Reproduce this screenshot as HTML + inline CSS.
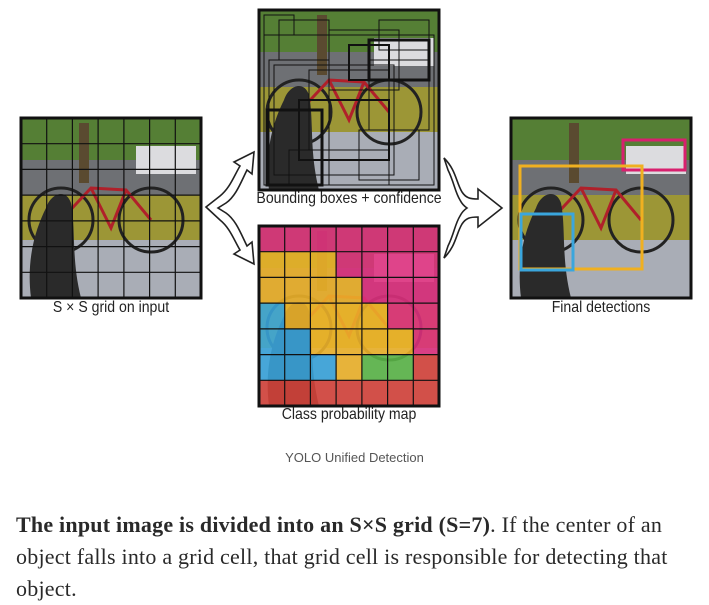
<!DOCTYPE html>
<html><head><meta charset="utf-8"><style>
body{margin:0;width:709px;height:600px;background:#fff;overflow:hidden;position:relative;font-family:"Liberation Sans",sans-serif}
.lbl{position:absolute;font-size:16px;color:#222;text-align:center;transform:scaleX(0.88)}
#cap{position:absolute;top:450px;left:0;width:709px;text-align:center;font-size:13px;color:#555}
#para{position:absolute;top:509px;left:16px;width:690px;white-space:nowrap;font-family:"Liberation Serif",serif;font-size:22px;line-height:32px;color:#292929;letter-spacing:0.22px}
</style></head><body>
<svg width="709" height="440" style="position:absolute;left:0;top:0">
<defs>
<g id="scene">
<rect width="180" height="180" fill="#a9adb6"/>
<rect width="180" height="42" fill="#557f35"/>
<rect y="42" width="180" height="35" fill="#6e7074"/>
<rect x="115" y="28" width="60" height="28" fill="#dcdcdf"/>
<rect y="77" width="180" height="45" fill="#9c9636"/>
<rect x="58" y="5" width="10" height="60" fill="#5a4a30"/>
<circle cx="40" cy="102" r="32" fill="none" stroke="#222" stroke-width="3"/>
<circle cx="130" cy="102" r="32" fill="none" stroke="#222" stroke-width="3"/>
<path d="M40 102 L70 70 L105 72 L130 102 M70 70 L90 110 L105 72" fill="none" stroke="#b0202a" stroke-width="3"/>
<path d="M10 180 C5 140 15 110 25 90 C30 75 45 70 50 85 C55 110 50 140 60 180 Z" fill="#2a2a2a"/>
</g>
<g id="grid7" fill="none" stroke="#111" stroke-width="1.2">
<path d="M25.7 0V180M51.4 0V180M77.1 0V180M102.9 0V180M128.6 0V180M154.3 0V180M0 25.7H180M0 51.4H180M0 77.1H180M0 102.9H180M0 128.6H180M0 154.3H180"/>
</g>
</defs>
<g transform="translate(21,118)">
<use href="#scene"/><use href="#grid7"/><rect width="180" height="180" fill="none" stroke="#111" stroke-width="3"/>
</g>
<g transform="translate(259,10)">
<use href="#scene"/>
<g fill="none" stroke="#111" stroke-width="1">
<rect x="5" y="25" width="170" height="150"/><rect x="10" y="50" width="60" height="125"/><rect x="8" y="100" width="55" height="75" stroke-width="3"/>
<rect x="15" y="55" width="120" height="110"/><rect x="110" y="30" width="60" height="40" stroke-width="3"/><rect x="90" y="35" width="40" height="35" stroke-width="2"/>
<rect x="110" y="50" width="60" height="70"/><rect x="50" y="60" width="80" height="80"/><rect x="20" y="10" width="50" height="40"/>
<rect x="70" y="20" width="70" height="60"/><rect x="30" y="140" width="100" height="35"/><rect x="100" y="120" width="60" height="50"/>
<rect x="5" y="5" width="30" height="20"/><rect x="120" y="10" width="50" height="30"/><rect x="40" y="90" width="90" height="60" stroke-width="2"/>
</g>
<rect width="180" height="180" fill="none" stroke="#111" stroke-width="3"/>
</g>
<g transform="translate(259,226)">
<use href="#scene"/>
<g id="cells" opacity="0.88"></g>
<use href="#grid7" style="stroke-width:2"/>
<rect width="180" height="180" fill="none" stroke="#111" stroke-width="3"/>
</g>
<g transform="translate(511,118)">
<use href="#scene"/>
<rect x="112" y="22" width="62" height="30" fill="none" stroke="#d8206e" stroke-width="3"/>
<rect x="9" y="48" width="122" height="103" fill="none" stroke="#f0b020" stroke-width="3"/>
<rect x="10" y="96" width="52" height="56" fill="none" stroke="#3aa6dd" stroke-width="3"/>
<rect width="180" height="180" fill="none" stroke="#111" stroke-width="3"/>
</g>
<g fill="#fff" stroke="#222" stroke-width="1.6">
<path d="M206 207 L220 196 C230 188 234 176 240 166 L234 162 L254 152 L252 174 L247 170 C241 182 236 196 226 203 L218 208 L226 213 C236 220 241 234 247 246 L252 242 L254 264 L234 254 L240 250 C234 240 230 228 220 220 Z"/>
<path d="M444 158 C456 170 456 182 462 192 C466 198 470 199 478 199 L478 189 L502 208 L478 227 L478 217 C470 217 466 218 462 224 C456 234 456 246 444 258 L448 246 C454 234 455 224 460 216 C462 212 464 210 467 208 C464 206 462 204 460 200 C455 192 454 182 448 170 Z"/>
</g>
</svg>
<div class="lbl" style="left:11px;top:299px;width:200px">S × S grid on input</div>
<div class="lbl" style="left:228px;top:190px;width:242px">Bounding boxes + confidence</div>
<div class="lbl" style="left:249px;top:406px;width:200px">Class probability map</div>
<div class="lbl" style="left:501px;top:299px;width:200px">Final detections</div>
<div id="cap">YOLO Unified Detection</div>
<div id="para"><b>The input image is divided into an S×S grid (S=7)</b>. If the center of an<br>object falls into a grid cell, that grid cell is responsible for detecting that<br>object.</div>
<script>
const classRows = ["PPPPPPP","YYYPPPP","YYYYPPP","BYYYYPP","BBYYYYP","BBBYGGR","RRRRRRR"];
const classColors = {P:"#e0307f",Y:"#f0b429",B:"#3aa6dd",G:"#5cb848",R:"#d8443a"};
const g=document.getElementById('cells');
const cw=180/7;
classRows.forEach((row,r)=>{[...row].forEach((c,k)=>{
const el=document.createElementNS('http://www.w3.org/2000/svg','rect');
el.setAttribute('x',k*cw);el.setAttribute('y',r*cw);el.setAttribute('width',cw);el.setAttribute('height',cw);
el.setAttribute('fill',classColors[c]);


g.appendChild(el);});});
</script>
</body></html>
